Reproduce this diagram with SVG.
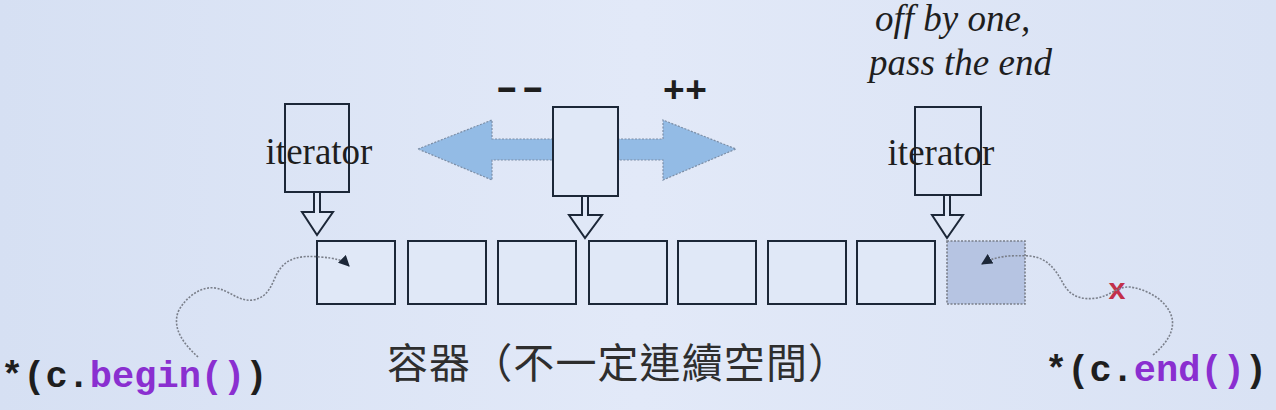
<svg xmlns="http://www.w3.org/2000/svg" width="1276" height="410" viewBox="0 0 1276 410">
<defs>
<style>
.box{fill:#e0e8f7;stroke:#1c2738;stroke-width:2}
.it{fill:none;stroke:#1c2738;stroke-width:2}
.ptr{fill:#e0e8f7;stroke:#1c2738;stroke-width:2}
.lbl{font-family:"Liberation Serif","Times New Roman",serif;font-size:37px;fill:#1e1e1e}
.note{font-family:"Liberation Serif","Times New Roman",serif;font-size:37px;font-style:italic;fill:#1e1e1e}
.code{font-family:"Liberation Mono","Courier New",monospace;font-size:37px;font-weight:bold;fill:#1e1e1e}
.purple{fill:#8a2fd0}
.cjk{font-family:"Noto Sans CJK TC","Noto Sans CJK SC",sans-serif;font-size:41px;fill:#2e2e2e}
.curve{fill:none;stroke:#7a7f8a;stroke-width:1.6;stroke-dasharray:2 1.5}
.bigarrow{fill:#93bbe5;stroke:#7c8ea6;stroke-width:1.2;stroke-dasharray:2 1.5}
</style>
<marker id="ah" viewBox="0 0 10 10" refX="9" refY="5" markerWidth="7" markerHeight="7" orient="auto">
<path d="M0,0 L10,5 L0,10 Z" fill="#1c2738"/>
</marker>
<linearGradient id="bg" x1="0" y1="0" x2="1" y2="0">
<stop offset="0" stop-color="#d6e0f3"/>
<stop offset="0.5" stop-color="#e2e9f8"/>
<stop offset="1" stop-color="#d9e2f4"/>
</linearGradient>
</defs>
<rect x="0" y="0" width="1276" height="410" fill="url(#bg)"/>

<g id="double-arrow">
<path class="bigarrow" d="M418,149 L492,120 L492,139 L663,139 L663,120 L736,149 L663,180 L663,160 L492,160 L492,180 Z"/>
</g>

<g id="container">
<rect class="box" x="317" y="241" width="78" height="63"/>
<rect class="box" x="408" y="241" width="78" height="63"/>
<rect class="box" x="498" y="241" width="78" height="63"/>
<rect class="box" x="589" y="241" width="78" height="63"/>
<rect class="box" x="678" y="241" width="78" height="63"/>
<rect class="box" x="768" y="241" width="78" height="63"/>
<rect class="box" x="857" y="241" width="78" height="63"/>
<rect x="947" y="241" width="78" height="63" fill="#b6c4e2" stroke="#7a7f8a" stroke-width="1.6" stroke-dasharray="2 1.5"/>
</g>

<g id="iterator-begin">
<rect class="it" x="285" y="104" width="64" height="88"/>
<path class="ptr" d="M314,192 L320,192 L320,212 L333,212 L317,235 L302,212 L314,212 Z"/>
<text class="lbl" x="319" y="164" text-anchor="middle">iterator</text>
</g>

<g id="iterator-middle">
<rect class="box" x="553" y="107" width="65" height="89"/>
<path class="ptr" d="M582,196 L588,196 L588,215 L602,215 L585,238 L569,215 L582,215 Z"/>
</g>

<g id="iterator-end">
<rect class="it" x="915" y="107" width="66" height="88"/>
<path class="ptr" d="M944,195 L950,195 L950,215 L963,215 L947,238 L932,215 L944,215 Z"/>
<text class="lbl" x="941" y="165" text-anchor="middle">iterator</text>
</g>

<g id="labels">
<text class="code" font-size="36" letter-spacing="-6" transform="translate(489,99) scale(1.6,1)" x="0" y="0">--</text>
<text class="code" font-size="36" x="685" y="102" text-anchor="middle">++</text>
<text class="note" font-size="36" x="875" y="31">off by one,</text>
<text class="note" font-size="38" x="869" y="75">pass the end</text>
<text class="cjk" x="387" y="378" textLength="462" lengthAdjust="spacing">容器（不一定連續空間）</text>
<text class="code" x="1" y="387">*(c.<tspan class="purple">begin()</tspan>)</text>
<text class="code" x="1045" y="381">*(c.<tspan class="purple">end()</tspan>)</text>
<text x="1117" y="299" text-anchor="middle" font-family="Liberation Mono, monospace" font-weight="bold" font-size="30" fill="#c2304a">x</text>
</g>

<g id="connectors">
<path class="curve" marker-end="url(#ah)" d="M198,357 C185,345 172,330 178,312 C186,296 202,286 215,288 C230,290 238,302 253,300 C270,297 272,282 278,272 C286,258 300,255 320,257 C335,258 343,260 349,266"/>
<path class="curve" marker-end="url(#ah)" d="M1153,355 C1165,345 1175,332 1172,318 C1168,302 1150,290 1130,287 C1118,286 1110,296 1097,298 C1084,300 1072,298 1064,285 C1056,270 1048,258 1030,256 C1010,255 995,256 982,264"/>
</g>
</svg>
